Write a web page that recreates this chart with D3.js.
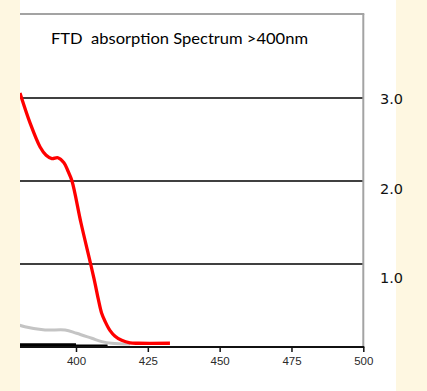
<!DOCTYPE html>
<html lang="en">
<head>
<meta charset="utf-8">
<title>FTD absorption spectrum</title>
<script src="https://d3js.org/d3.v7.min.js"></script>
<style>
  html, body { margin: 0; padding: 0; background: #fef7e1; }
  svg { display: block; }
</style>
</head>
<body>
<div id="chart"></div>
<script>
// wavelength (nm) / absorbance
var redWl   = [380.5, 384, 387.5, 389.6, 391.6, 393.7, 395.8, 397.2, 398.6, 401.7, 405.1, 406.6, 407.8, 408.9, 410.1, 411.8, 413.6, 415.9, 418.8, 421.7, 432.7];
var redAbs  = [3.06, 2.70, 2.41, 2.31, 2.27, 2.28, 2.22, 2.12, 2.0, 1.5, 1.0, 0.77, 0.57, 0.41, 0.31, 0.20, 0.13, 0.08, 0.05, 0.045, 0.045];
var grayWl  = [378.8, 382.2, 389.2, 396.2, 400.2, 405.5, 409, 412.4, 418.8];
var grayAbs = [0.28, 0.245, 0.205, 0.205, 0.165, 0.105, 0.065, 0.045, 0.035];
var blackWl  = [378, 400];
var blackAbs = [0.02, 0.02];
var black2Wl  = [400, 411];
var black2Abs = [0.015, 0.015];
var xTicks = [400, 425, 450, 475, 500];
var yTicks = [1.0, 2.0, 3.0];
var yLabelOffset = [13, 7, 0]; // right labels drift below their gridlines

var W = 427, H = 391;
var svg = d3.select("#chart").append("svg").attr("width", W).attr("height", H);

// white panel
svg.append("rect").attr("x", 20).attr("y", 0).attr("width", 376).attr("height", H).attr("fill", "#ffffff");

var x = d3.scaleLinear().domain([400, 500]).range([76, 363.3]);
var y = d3.scaleLinear().domain([0, 3]).range([347, 98]);

svg.append("defs").append("clipPath").attr("id", "plotclip")
   .append("rect").attr("x", 20).attr("y", 14).attr("width", 343).attr("height", 340);

// gridlines
svg.selectAll("line.grid").data(yTicks).enter().append("line")
   .attr("class", "grid")
   .attr("x1", 20).attr("x2", x(500))
   .attr("y1", d => y(d)).attr("y2", d => y(d))
   .attr("stroke", "#404040").attr("stroke-width", 2);

// frame top and right
svg.append("line").attr("x1", 20).attr("x2", x(500) + 1).attr("y1", 14).attr("y2", 14)
   .attr("stroke", "#a3a3a3").attr("stroke-width", 2);
svg.append("line").attr("x1", x(500)).attr("x2", x(500)).attr("y1", 14).attr("y2", y(0))
   .attr("stroke", "#a3a3a3").attr("stroke-width", 2);

var plot = svg.append("g").attr("clip-path", "url(#plotclip)");
var line = d3.line().x(d => x(d[0])).y(d => y(d[1])).curve(d3.curveCatmullRom.alpha(0.5));

function pairs(a, b) { return a.map((v, i) => [v, b[i]]); }

plot.append("path").datum(pairs(blackWl, blackAbs)).attr("d", line)
    .attr("fill", "none").attr("stroke", "#000").attr("stroke-width", 4);
plot.append("path").datum(pairs(black2Wl, black2Abs)).attr("d", line)
    .attr("fill", "none").attr("stroke", "#000").attr("stroke-width", 2.5);
plot.append("path").datum(pairs(grayWl, grayAbs)).attr("d", line)
    .attr("fill", "none").attr("stroke", "#c4c4c4").attr("stroke-width", 3);
plot.append("path").datum(pairs(redWl, redAbs)).attr("d", line)
    .attr("fill", "none").attr("stroke", "#ff0000").attr("stroke-width", 3.3)
    .attr("stroke-linejoin", "round");

// x axis
var xAxis = svg.append("g").attr("transform", "translate(0," + y(0) + ")")
   .call(d3.axisBottom(x).tickValues(xTicks).tickSize(5).tickSizeOuter(0).tickPadding(5));
xAxis.select(".domain").attr("d", "M20,0H" + (x(500) + 1)).attr("stroke", "#111").attr("stroke-width", 2);
xAxis.selectAll(".tick line").attr("stroke", "#111").attr("stroke-width", 1.5);
xAxis.selectAll(".tick text")
   .attr("font-family", "Liberation Sans, Arial, sans-serif")
   .attr("font-size", 11.5).attr("fill", "#2a2a2a");

// right-hand labels
svg.selectAll("text.ylab").data(yTicks).enter().append("text")
   .attr("class", "ylab")
   .attr("x", 380)
   .attr("y", (d, i) => y(d) + yLabelOffset[i] + 5.5)
   .attr("font-family", "DejaVu Sans, sans-serif")
   .attr("font-size", 14.5).attr("fill", "#111")
   .text(d => d.toFixed(1));

// title
svg.append("text").attr("x", 51).attr("y", 44)
   .attr("font-family", "Lato, sans-serif").attr("font-size", 16)
   .attr("fill", "#000").style("white-space", "pre")
   .attr("textLength", 257).attr("lengthAdjust", "spacingAndGlyphs")
   .text("FTD  absorption Spectrum >400nm");
</script>
</body>
</html>
